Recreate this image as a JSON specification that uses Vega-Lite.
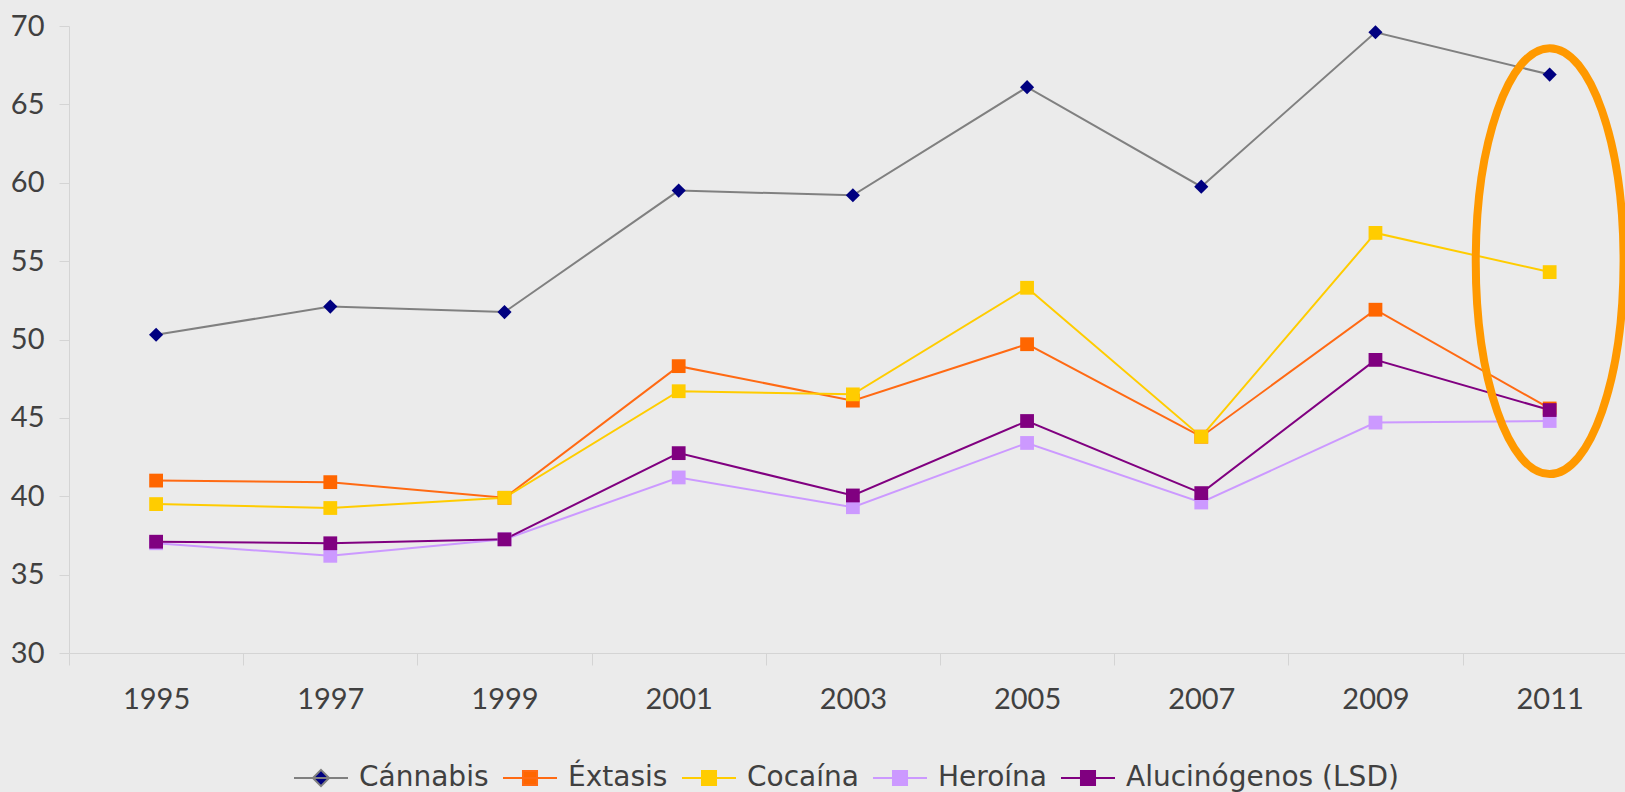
{
  "$schema": "https://vega.github.io/schema/vega-lite/v6.json",
  "autosize": {"type": "none"},
  "padding": {"left": 69, "top": 26, "right": 0, "bottom": 139},
  "width": 1556,
  "height": 627,
  "background": "#ebebeb",
  "config": {
    "view": {"stroke": null},
    "axis": {"labelFont": "Lato", "labelFontSize": 29, "labelColor": "#404040", "grid": false, "domainColor": "#d4d4d4", "tickColor": "#d4d4d4", "title": null},
    "legend": {"labelFont": "DejaVu Sans", "labelFontSize": 28, "labelColor": "#404040", "labelLimit": 0}
  },
  "datasets": {
    "series": [
      {"Año": 1995, "Droga": "Cánnabis", "Valor": 50.3},
      {"Año": 1997, "Droga": "Cánnabis", "Valor": 52.1},
      {"Año": 1999, "Droga": "Cánnabis", "Valor": 51.75},
      {"Año": 2001, "Droga": "Cánnabis", "Valor": 59.5},
      {"Año": 2003, "Droga": "Cánnabis", "Valor": 59.2},
      {"Año": 2005, "Droga": "Cánnabis", "Valor": 66.1},
      {"Año": 2007, "Droga": "Cánnabis", "Valor": 59.75},
      {"Año": 2009, "Droga": "Cánnabis", "Valor": 69.6},
      {"Año": 2011, "Droga": "Cánnabis", "Valor": 66.9},
      {"Año": 1995, "Droga": "Éxtasis", "Valor": 41.0},
      {"Año": 1997, "Droga": "Éxtasis", "Valor": 40.9},
      {"Año": 1999, "Droga": "Éxtasis", "Valor": 39.9},
      {"Año": 2001, "Droga": "Éxtasis", "Valor": 48.3},
      {"Año": 2003, "Droga": "Éxtasis", "Valor": 46.1},
      {"Año": 2005, "Droga": "Éxtasis", "Valor": 49.7},
      {"Año": 2007, "Droga": "Éxtasis", "Valor": 43.8},
      {"Año": 2009, "Droga": "Éxtasis", "Valor": 51.9},
      {"Año": 2011, "Droga": "Éxtasis", "Valor": 45.6},
      {"Año": 1995, "Droga": "Cocaína", "Valor": 39.5},
      {"Año": 1997, "Droga": "Cocaína", "Valor": 39.25},
      {"Año": 1999, "Droga": "Cocaína", "Valor": 39.9},
      {"Año": 2001, "Droga": "Cocaína", "Valor": 46.7},
      {"Año": 2003, "Droga": "Cocaína", "Valor": 46.5},
      {"Año": 2005, "Droga": "Cocaína", "Valor": 53.3},
      {"Año": 2007, "Droga": "Cocaína", "Valor": 43.8},
      {"Año": 2009, "Droga": "Cocaína", "Valor": 56.8},
      {"Año": 2011, "Droga": "Cocaína", "Valor": 54.3},
      {"Año": 1995, "Droga": "Heroína", "Valor": 37.0},
      {"Año": 1997, "Droga": "Heroína", "Valor": 36.2},
      {"Año": 1999, "Droga": "Heroína", "Valor": 37.25},
      {"Año": 2001, "Droga": "Heroína", "Valor": 41.2},
      {"Año": 2003, "Droga": "Heroína", "Valor": 39.3},
      {"Año": 2005, "Droga": "Heroína", "Valor": 43.4},
      {"Año": 2007, "Droga": "Heroína", "Valor": 39.6},
      {"Año": 2009, "Droga": "Heroína", "Valor": 44.7},
      {"Año": 2011, "Droga": "Heroína", "Valor": 44.8},
      {"Año": 1995, "Droga": "Alucinógenos (LSD)", "Valor": 37.1},
      {"Año": 1997, "Droga": "Alucinógenos (LSD)", "Valor": 37.0},
      {"Año": 1999, "Droga": "Alucinógenos (LSD)", "Valor": 37.25},
      {"Año": 2001, "Droga": "Alucinógenos (LSD)", "Valor": 42.75},
      {"Año": 2003, "Droga": "Alucinógenos (LSD)", "Valor": 40.05},
      {"Año": 2005, "Droga": "Alucinógenos (LSD)", "Valor": 44.8},
      {"Año": 2007, "Droga": "Alucinógenos (LSD)", "Valor": 40.2},
      {"Año": 2009, "Droga": "Alucinógenos (LSD)", "Valor": 48.7},
      {"Año": 2011, "Droga": "Alucinógenos (LSD)", "Valor": 45.5}
    ],
    "highlight": [
      {"Año": 2011, "Valor": 55}
    ]
  },
  "layer": [
    {
      "data": {"name": "series"},
      "mark": {"type": "line", "strokeWidth": 2},
      "encoding": {
        "x": {
          "field": "Año", "type": "quantitative",
          "scale": {"domain": [1994, 2011.865], "nice": false, "zero": false},
          "axis": {
            "values": [1994, 1995, 1996, 1997, 1998, 1999, 2000, 2001, 2002, 2003, 2004, 2005, 2006, 2007, 2008, 2009, 2010, 2011],
            "labelExpr": "datum.value % 2 == 1 ? datum.value + '' : ''",
            "labelOverlap": false, "labelFlush": false,
            "tickSize": 12, "labelPadding": 20,
            "tickOpacity": {"condition": {"test": "datum.value % 2 == 0", "value": 1}, "value": 0}
          }
        },
        "y": {
          "field": "Valor", "type": "quantitative",
          "scale": {"domain": [30, 70], "nice": false, "zero": false},
          "axis": {"values": [30, 35, 40, 45, 50, 55, 60, 65, 70], "tickSize": 10, "labelPadding": 15}
        },
        "color": {
          "field": "Droga", "type": "nominal",
          "scale": {
            "domain": ["Cánnabis", "Éxtasis", "Cocaína", "Heroína", "Alucinógenos (LSD)"],
            "range": ["#808080", "#FF6A13", "#FFCC00", "#CC99FF", "#800080"]
          },
          "legend": {
            "title": null, "orient": "none", "legendX": 224, "legendY": 724,
            "direction": "horizontal", "padding": 0, "offset": 0,
            "symbolType": "M-1,0H1M-0.26,-0.26H0.26V0.26H-0.26Z",
            "symbolSize": 2916, "symbolStrokeWidth": 2,
            "labelOffset": 10, "columnPadding": 10,
            "encode": {
              "symbols": {
                "update": {
                  "fill": {"signal": "datum.value == 'Cánnabis' ? '#000080' : datum.value == 'Éxtasis' ? '#FF6600' : datum.value == 'Cocaína' ? '#FFCC00' : datum.value == 'Heroína' ? '#CC99FF' : '#800080'"},
                  "shape": {"signal": "datum.value == 'Cánnabis' ? 'M-1,0H1M0,-0.3L0.3,0L0,0.3L-0.3,0Z' : 'M-1,0H1M-0.26,-0.26H0.26V0.26H-0.26Z'"}
                }
              }
            }
          }
        },
        "order": {"field": "Año", "type": "quantitative"}
      }
    },
    {
      "data": {"name": "series"},
      "transform": [{"filter": "datum['Droga'] == 'Cánnabis'"}],
      "mark": {"type": "point", "filled": true, "opacity": 1, "size": 200, "shape": "diamond", "color": "#000080"},
      "encoding": {
        "x": {"field": "Año", "type": "quantitative"},
        "y": {"field": "Valor", "type": "quantitative"}
      }
    },
    {
      "data": {"name": "series"},
      "transform": [{"filter": "datum['Droga'] != 'Cánnabis'"}],
      "mark": {"type": "point", "filled": true, "opacity": 1, "size": 190, "shape": "square"},
      "encoding": {
        "x": {"field": "Año", "type": "quantitative"},
        "y": {"field": "Valor", "type": "quantitative"},
        "fill": {
          "field": "Droga", "type": "nominal",
          "scale": {
            "domain": ["Éxtasis", "Cocaína", "Heroína", "Alucinógenos (LSD)"],
            "range": ["#FF6600", "#FFCC00", "#CC99FF", "#800080"]
          },
          "legend": null
        }
      }
    },
    {
      "data": {"name": "highlight"},
      "mark": {
        "type": "point", "filled": false, "opacity": 1,
        "shape": "M0,-1C0.1917,-1,0.347,-0.5523,0.347,0C0.347,0.5523,0.1917,1,0,1C-0.1917,1,-0.347,0.5523,-0.347,0C-0.347,-0.5523,-0.1917,-1,0,-1Z",
        "size": 181476, "stroke": "#FF9900", "strokeWidth": 8
      },
      "encoding": {
        "x": {"field": "Año", "type": "quantitative"},
        "y": {"field": "Valor", "type": "quantitative"}
      }
    }
  ]
}
